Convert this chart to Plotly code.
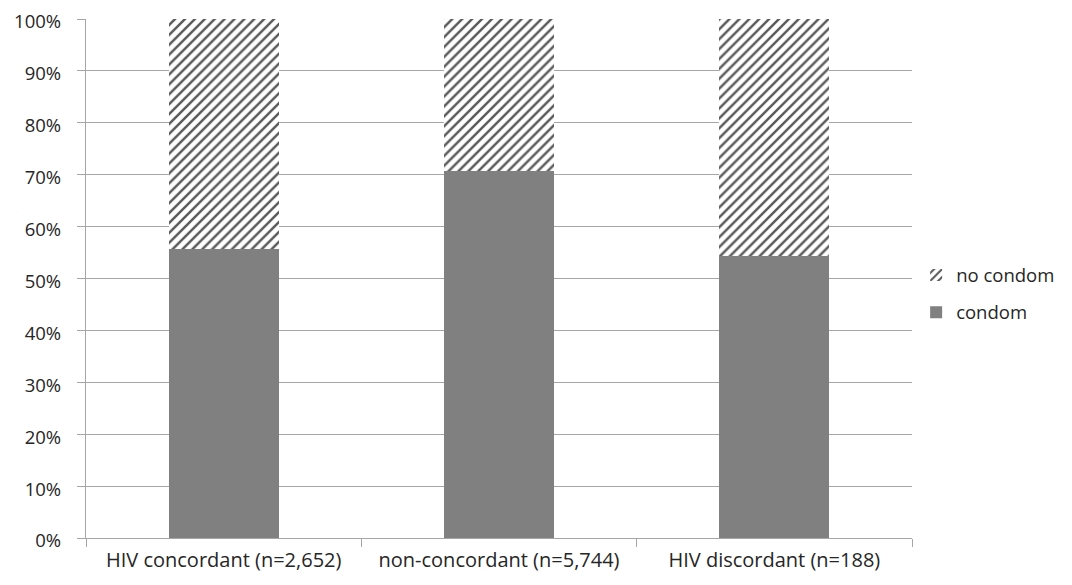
import plotly.graph_objects as go

categories = ["HIV concordant (n=2,652)", "non-concordant (n=5,744)", "HIV discordant (n=188)"]
condom = [55.6, 70.8, 54.3]
no_condom = [100 - v for v in condom]
y_ticks = [0, 10, 20, 30, 40, 50, 60, 70, 80, 90, 100]
y_tick_labels = [f"{t}%" for t in y_ticks]

fig = go.Figure()
fig.add_trace(go.Bar(
    x=categories, y=condom, name="condom", legendgroup="a", legendrank=2,
    marker=dict(color="#808080", line=dict(width=0)),
))
fig.add_trace(go.Bar(
    x=categories, y=no_condom, name="no condom", legendgroup="b", legendrank=1,
    marker=dict(color="white", line=dict(width=0),
                pattern=dict(shape="/", fgcolor="#595959", bgcolor="white",
                             size=7, solidity=0.35, fillmode="replace")),
))

fig.update_layout(
    barmode="stack",
    bargap=0.6,
    width=1056, height=569,
    margin=dict(l=78, r=152, t=11, b=39, autoexpand=False),
    paper_bgcolor="white", plot_bgcolor="white",
    font=dict(family="Open Sans", size=20, color="#262626"),
    showlegend=True,
    legend=dict(x=1.005, y=0.47, xanchor="left", yanchor="middle",
                traceorder="grouped", font=dict(size=18.5, color="#262626"),
                itemwidth=30, tracegroupgap=10),
)
fig.update_yaxes(
    range=[0, 100], tickvals=y_ticks, ticktext=y_tick_labels,
    tickfont=dict(size=18.5),
    showgrid=True, gridcolor="#a6a6a6", gridwidth=1.3,
    showline=True, linecolor="#a6a6a6", linewidth=1.3,
    ticks="outside", ticklen=8, tickcolor="#a6a6a6",
    ticklabelstandoff=12, ticklabeloverflow="allow", ticklabelshift=3,
    automargin=False, zeroline=False, fixedrange=True,
)
fig.update_xaxes(
    showline=True, linecolor="#a6a6a6", linewidth=1.3,
    ticks="outside", tickson="boundaries", ticklen=8, tickcolor="#a6a6a6",
    ticklabelstandoff=4, automargin=False, ticklabeloverflow="allow",
    showgrid=False,
)

fig.write_html("out.html")
